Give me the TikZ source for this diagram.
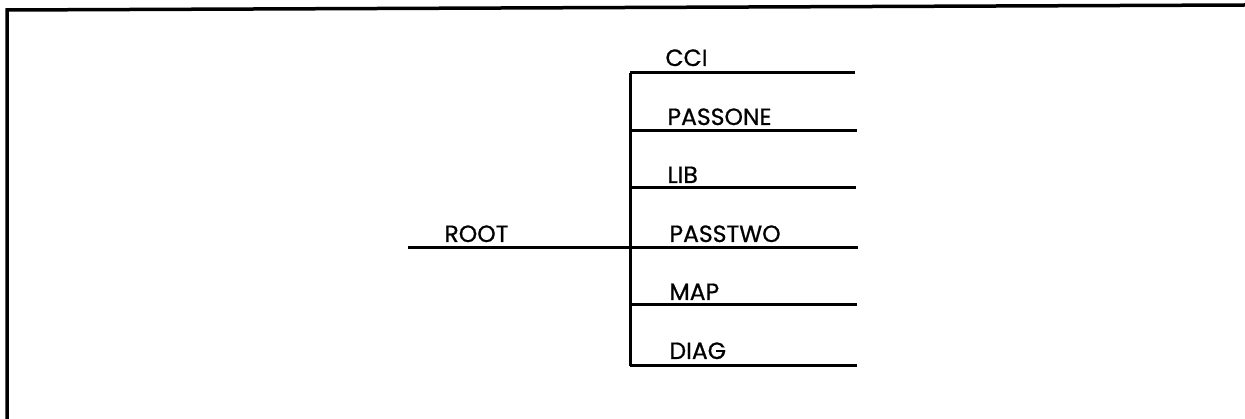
\documentclass[tikz,border=0pt]{standalone}
\usepackage{fontspec}
\setmainfont{Poppins}
\newfontfamily\labelfont{Poppins}[FakeBold=0.8]
\begin{document}
\begin{tikzpicture}[x=1pt, y=-1pt, line width=3pt,
    every node/.style={font=\labelfont\fontsize{23.5}{24}\selectfont, anchor=base west, inner sep=0pt}]
                \useasboundingbox (0,0) rectangle (1245,419);
                % frame
                \draw[line width=3.5pt] (7,419) -- (7,10) -- (1245,5);

                \coordinate (root) at (408,248);
                \coordinate (hub) at (630,248);
                \coordinate (top) at (630,73);
                \coordinate (bot) at (630,366);
                \node (rootlbl) at (443,242) {ROOT};

                \coordinate (cci) at (855,73);
                \coordinate (passone-a) at (630,131);
                \coordinate (passone) at (857,131);
                \coordinate (lib-a) at (630,188);
                \coordinate (lib) at (856,188);
                \coordinate (passtwo) at (858,248);
                \coordinate (map-a) at (630,305);
                \coordinate (map) at (857,305);
                \coordinate (diag) at (857,366);

                \node (ccilbl) at (664,66) {CCI};
                \node (passonelbl) at (666,125) {PASSONE};
                \node (liblbl) at (666,183) {LIB};
                \node (passtwolbl) at (668,242) {PASSTWO};
                \node (maplbl) at (668,300) {MAP};
                \node (diaglbl) at (668,359) {DIAG};

                \draw (root) -- (hub) -- (passtwo);
                \draw (top) -- (bot);
                \draw (top) -- (cci);
                \draw (passone-a) -- (passone);
                \draw (lib-a) -- (lib);
                \draw (map-a) -- (map);
                \draw (bot) -- (diag);
            \end{tikzpicture}
\end{document}
